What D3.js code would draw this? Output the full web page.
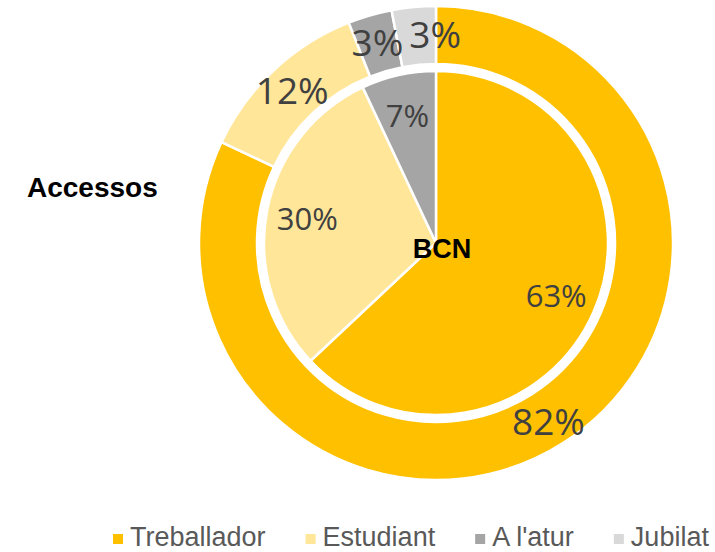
<!DOCTYPE html>
<html>
<head>
<meta charset="utf-8">
<script src="https://cdn.jsdelivr.net/npm/d3@7"></script>
<style>
  body { margin: 0; background: #fff; }
  svg { display: block; }
</style>
</head>
<body>
<div id="vis"></div>
<script>
// chart data
const CATEGORIES = ["Treballador", "Estudiant", "A l'atur", "Jubilat"];
const ACCESSOS = [82, 12, 3, 3];   // outer ring
const BCN = [63, 30, 7, 0];        // inner pie
const COLORS = ["#FFC000", "#FFE699", "#A5A5A5", "#D9D9D9"];

// set constants
const FRAME_WIDTH = 715;
const FRAME_HEIGHT = 552;
const CENTER = {x: 436, y: 243};
const INNER_R = 172;
const RING_IN = 179;
const RING_OUT = 237;

const FRAME = d3.select("#vis")
  .append("svg")
    .attr("width", FRAME_WIDTH)
    .attr("height", FRAME_HEIGHT);

const COLOR = d3.scaleOrdinal().domain(CATEGORIES).range(COLORS);

const pie = d3.pie().sort(null).value(d => d.v);
const toData = vals => CATEGORIES.map((c, i) => ({cat: c, v: vals[i]}));

const outerArcs = pie(toData(ACCESSOS));
const innerArcs = pie(toData(BCN));

const g = FRAME.append("g")
  .attr("transform", "translate(" + CENTER.x + "," + CENTER.y + ")");

const ringArc = d3.arc().innerRadius(RING_IN).outerRadius(RING_OUT);
const pieArc = d3.arc().innerRadius(0).outerRadius(INNER_R);

// outer ring (Accessos)
g.append("g").selectAll("path")
  .data(outerArcs.filter(d => d.data.v > 0))
  .enter()
  .append("path")
    .attr("d", ringArc)
    .attr("fill", d => COLOR(d.data.cat))
    .attr("stroke", "#fff")
    .attr("stroke-width", 2.5);

// inner pie (BCN)
g.append("g").selectAll("path")
  .data(innerArcs.filter(d => d.data.v > 0))
  .enter()
  .append("path")
    .attr("d", pieArc)
    .attr("fill", d => COLOR(d.data.cat))
    .attr("stroke", "#fff")
    .attr("stroke-width", 2.5);

// labels
const outerLabelArc = d3.arc().innerRadius(210).outerRadius(210);
const innerLabelArc = d3.arc().innerRadius(131).outerRadius(131);

const outerLabels = g.append("g").selectAll("text")
  .data(outerArcs.filter(d => d.data.v > 0))
  .enter()
  .append("text")
    .attr("text-anchor", "middle")
    .attr("dominant-baseline", "central")
    .style("font-family", "'Open Sans', sans-serif")
    .style("font-size", "37px")
    .attr("fill", "#404040")
    .text(d => d.data.v + "%");

// push small neighbouring labels apart
let prevRight = -Infinity;
outerLabels.each(function(d) {
  const c = outerLabelArc.centroid(d);
  const w = this.getComputedTextLength();
  let x = c[0];
  if (x - w / 2 < prevRight && Math.abs(c[1]) > RING_IN - 10) {
    x = prevRight + w / 2 + 6;
  }
  prevRight = x + w / 2;
  d3.select(this).attr("x", x).attr("y", c[1]);
});

g.append("g").selectAll("text")
  .data(innerArcs.filter(d => d.data.v > 0))
  .enter()
  .append("text")
    .attr("x", d => innerLabelArc.centroid(d)[0])
    .attr("y", d => innerLabelArc.centroid(d)[1])
    .attr("text-anchor", "middle")
    .attr("dominant-baseline", "central")
    .style("font-family", "'Open Sans', sans-serif")
    .style("font-size", "31px")
    .attr("fill", "#404040")
    .text(d => d.data.v + "%");

// series names
g.append("text")
  .attr("x", 6)
  .attr("y", 15)
  .attr("text-anchor", "middle")
  .style("font-family", "'Liberation Sans', Arial, sans-serif")
  .style("font-weight", "bold")
  .style("font-size", "27px")
  .attr("fill", "#000")
  .text("BCN");

FRAME.append("text")
  .attr("x", 27)
  .attr("y", 197)
  .style("font-family", "'Liberation Sans', Arial, sans-serif")
  .style("font-weight", "bold")
  .style("font-size", "28px")
  .attr("fill", "#000")
  .text("Accessos");

// legend
const legend = FRAME.append("g");
let lx = 113;
CATEGORIES.forEach((c) => {
  const item = legend.append("g").attr("transform", "translate(" + lx + ",0)");
  item.append("rect")
    .attr("x", 0)
    .attr("y", 534)
    .attr("width", 10)
    .attr("height", 10)
    .attr("fill", COLOR(c));
  const t = item.append("text")
    .attr("x", 17)
    .attr("y", 546)
    .style("font-family", "'Liberation Sans', Arial, sans-serif")
    .style("font-size", "27px")
    .attr("fill", "#595959")
    .text(c);
  lx += 17 + t.node().getComputedTextLength() + 40;
});
</script>
</body>
</html>
